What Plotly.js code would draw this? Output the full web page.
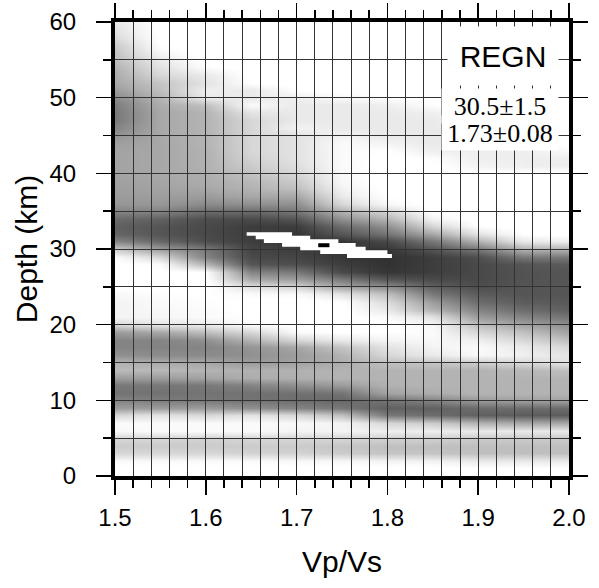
<!DOCTYPE html>
<html>
<head>
<meta charset="utf-8">
<script src="https://cdn.plot.ly/plotly-3.0.1.min.js"></script>
<style>html,body{margin:0;padding:0;background:#fff;}#chart{width:599px;height:588px;}</style>
</head>
<body>
<div id="chart"></div>
<script>
// Vp/Vs grid (columns) and depth grid (rows, km)
const vpvs = [1.50, 1.55, 1.60, 1.65, 1.70, 1.75, 1.80, 1.85, 1.90, 1.95, 2.00];
const depthKm = [0,1,2,3,4,5,6,7,8,9,10,11,12,13,14,15,16,17,18,19,20,21,22,23,24,25,26,27,28,29,30,
  31,32,33,34,35,36,37,38,39,40,41,42,43,44,45,46,47,48,49,50,51,52,53,54,55,56,57,58,59,60];

// normalised stack amplitude, one profile per Vp/Vs column (depth 0..60 km)
const stack150 = [0.02,0.02,0.05,0.20,0.25,0.20,0.06,0.05,0.20,0.45,
  0.55,0.62,0.60,0.45,0.32,0.35,0.50,0.55,0.55,0.45,
  0.20,0.08,0.08,0.08,0.06,0.03,0.02,0.02,0.02,0.05,
  0.25,0.55,0.68,0.70,0.66,0.55,0.48,0.45,0.44,0.43,
  0.42,0.42,0.42,0.42,0.44,0.48,0.55,0.60,0.60,0.58,
  0.52,0.45,0.40,0.38,0.35,0.30,0.28,0.25,0.18,0.15,0.12];
const stack155 = [0.02,0.02,0.05,0.20,0.25,0.20,0.05,0.05,0.15,0.45,
  0.58,0.63,0.60,0.45,0.33,0.38,0.52,0.55,0.55,0.40,
  0.15,0.07,0.06,0.05,0.04,0.02,0.02,0.02,0.05,0.20,
  0.45,0.68,0.75,0.75,0.70,0.55,0.47,0.44,0.42,0.41,
  0.40,0.40,0.40,0.40,0.40,0.40,0.40,0.40,0.40,0.38,
  0.35,0.30,0.28,0.20,0.15,0.12,0.06,0.03,0.02,0.02,0.02];
const stack160 = [0.02,0.02,0.05,0.20,0.25,0.22,0.05,0.05,0.20,0.45,
  0.60,0.62,0.60,0.42,0.35,0.40,0.52,0.55,0.50,0.30,
  0.12,0.05,0.05,0.04,0.03,0.02,0.02,0.03,0.35,0.55,
  0.60,0.78,0.80,0.80,0.78,0.65,0.52,0.45,0.40,0.38,
  0.37,0.36,0.36,0.36,0.35,0.35,0.35,0.35,0.35,0.30,
  0.12,0.10,0.15,0.12,0.04,0.02,0.02,0.02,0.02,0.02,0.02];
const stack165 = [0.02,0.02,0.05,0.22,0.25,0.20,0.05,0.05,0.15,0.50,
  0.62,0.63,0.55,0.38,0.36,0.45,0.50,0.48,0.35,0.20,
  0.05,0.03,0.02,0.02,0.05,0.15,0.40,0.55,0.75,0.80,
  0.82,0.85,0.85,0.85,0.80,0.65,0.50,0.40,0.35,0.33,
  0.28,0.25,0.22,0.20,0.20,0.20,0.20,0.20,0.15,0.05,
  0.12,0.12,0.03,0.02,0.02,0.02,0.02,0.02,0.02,0.02,0.02];
const stack170 = [0.02,0.02,0.06,0.22,0.25,0.20,0.08,0.06,0.20,0.55,
  0.65,0.63,0.50,0.37,0.36,0.42,0.45,0.40,0.20,0.05,
  0.02,0.02,0.02,0.02,0.05,0.20,0.45,0.60,0.78,0.82,
  0.85,0.88,0.88,0.85,0.75,0.60,0.50,0.40,0.30,0.25,
  0.20,0.17,0.15,0.15,0.15,0.15,0.08,0.12,0.12,0.12,
  0.10,0.03,0.02,0.02,0.02,0.02,0.02,0.02,0.02,0.02,0.02];
const stack175 = [0.02,0.02,0.06,0.25,0.27,0.20,0.08,0.08,0.30,0.60,
  0.67,0.62,0.45,0.35,0.35,0.38,0.35,0.28,0.12,0.03,
  0.02,0.02,0.02,0.03,0.15,0.40,0.60,0.80,0.85,0.88,
  0.88,0.88,0.75,0.65,0.50,0.35,0.20,0.12,0.08,0.06,
  0.05,0.05,0.05,0.05,0.05,0.08,0.12,0.12,0.12,0.12,
  0.06,0.02,0.02,0.02,0.02,0.02,0.02,0.02,0.02,0.02,0.02];
const stack180 = [0.02,0.02,0.08,0.28,0.30,0.22,0.10,0.20,0.60,0.70,
  0.62,0.42,0.36,0.35,0.35,0.30,0.20,0.15,0.08,0.03,
  0.02,0.05,0.12,0.18,0.30,0.50,0.75,0.88,0.90,0.90,
  0.88,0.80,0.62,0.50,0.35,0.20,0.06,0.03,0.02,0.02,
  0.02,0.02,0.02,0.03,0.08,0.12,0.12,0.12,0.12,0.10,
  0.04,0.02,0.02,0.02,0.02,0.02,0.02,0.02,0.02,0.02,0.02];
const stack185 = [0.02,0.02,0.08,0.28,0.30,0.22,0.10,0.25,0.65,0.70,
  0.55,0.38,0.35,0.35,0.35,0.28,0.12,0.08,0.06,0.05,
  0.06,0.15,0.35,0.45,0.60,0.70,0.80,0.85,0.85,0.85,
  0.75,0.60,0.40,0.20,0.08,0.02,0.02,0.02,0.02,0.02,
  0.02,0.02,0.04,0.10,0.12,0.12,0.12,0.12,0.10,0.04,
  0.02,0.02,0.02,0.02,0.02,0.02,0.02,0.02,0.02,0.02,0.02];
const stack190 = [0.02,0.03,0.12,0.30,0.30,0.25,0.12,0.35,0.70,0.65,
  0.45,0.35,0.35,0.35,0.35,0.25,0.06,0.05,0.10,0.20,
  0.30,0.45,0.55,0.65,0.72,0.78,0.80,0.80,0.80,0.78,
  0.60,0.35,0.15,0.03,0.02,0.02,0.02,0.02,0.02,0.02,
  0.02,0.08,0.10,0.10,0.10,0.10,0.08,0.02,0.02,0.02,
  0.02,0.02,0.02,0.02,0.02,0.02,0.02,0.02,0.02,0.02,0.02];
const stack195 = [0.02,0.03,0.12,0.30,0.30,0.25,0.12,0.40,0.72,0.65,
  0.42,0.35,0.35,0.35,0.33,0.20,0.10,0.12,0.20,0.30,
  0.42,0.55,0.65,0.72,0.75,0.75,0.76,0.76,0.75,0.60,
  0.35,0.12,0.03,0.02,0.02,0.02,0.02,0.02,0.02,0.02,
  0.02,0.10,0.10,0.10,0.05,0.02,0.02,0.02,0.02,0.02,
  0.02,0.02,0.02,0.02,0.02,0.02,0.02,0.02,0.02,0.02,0.02];
const stack200 = [0.02,0.03,0.12,0.30,0.30,0.25,0.12,0.40,0.72,0.65,
  0.42,0.35,0.35,0.35,0.30,0.15,0.14,0.20,0.30,0.42,
  0.50,0.62,0.70,0.73,0.75,0.75,0.75,0.75,0.72,0.60,
  0.35,0.10,0.02,0.02,0.02,0.02,0.02,0.02,0.02,0.02,
  0.02,0.10,0.10,0.05,0.02,0.02,0.02,0.02,0.02,0.02,
  0.02,0.02,0.02,0.02,0.02,0.02,0.02,0.02,0.02,0.02,0.02];

// confidence region outline (white) and best solution
const confK = [1.645,1.695,1.695,1.715,1.715,1.746,1.746,1.765,1.765,1.776,1.776,1.800,1.800,1.805,1.805,
  1.7555,1.7555,1.726,1.726,1.704,1.704,1.684,1.684,1.664,1.664,1.655,1.655,1.645,1.645];
const confH = [32.2,32.2,31.75,31.75,31.3,31.3,30.8,30.8,30.3,30.3,29.85,29.85,29.35,29.35,28.8,
  28.8,29.35,29.35,29.85,29.85,30.3,30.3,30.8,30.8,31.3,31.3,31.75,31.75,32.2];
const bestK = [1.73];
const bestH = [30.5];

const stationName = 'REGN';
const resultH = '30.5±1.5';
const resultK = '1.73±0.08';

const xTickVals = [1.5, 1.6, 1.7, 1.8, 1.9, 2.0];
const xTickText = ['1.5', '1.6', '1.7', '1.8', '1.9', '2.0'];
const yTickVals = [0, 10, 20, 30, 40, 50, 60];
const yTickText = ['0', '10', '20', '30', '40', '50', '60'];

const columns = [stack150, stack155, stack160, stack165, stack170, stack175,
  stack180, stack185, stack190, stack195, stack200];
const z = depthKm.map((d, i) => columns.map(col => col[i]));

const sans = 'Liberation Sans, Arial, Helvetica, sans-serif';
const serif = 'Liberation Serif, Times New Roman, serif';

const traces = [
  {
    type: 'heatmap', x: vpvs, y: depthKm, z: z, xaxis: 'x', yaxis: 'y',
    zmin: 0, zmax: 1, zsmooth: 'best', showscale: false, hoverinfo: 'skip',
    colorscale: [[0, '#ffffff'], [0.03, '#ffffff'], [1, '#1a1a1a']]
  },
  {
    type: 'scatter', mode: 'lines', x: confK, y: confH, xaxis: 'x2', yaxis: 'y2',
    fill: 'toself', fillcolor: '#ffffff', line: {color: '#ffffff', width: 0}, hoverinfo: 'skip'
  },
  {
    type: 'scatter', mode: 'markers', x: bestK, y: bestH, xaxis: 'x2', yaxis: 'y2',
    marker: {symbol: 'line-ew', size: 8, line: {color: '#000000', width: 4}}, hoverinfo: 'skip'
  }
];

const tickCommon = {
  ticks: 'outside', ticklen: 15, tickwidth: 1.5, tickcolor: '#000',
  showline: true, linewidth: 4, linecolor: '#000', mirror: 'allticks',
  showgrid: true, gridcolor: '#333333', gridwidth: 1, zeroline: false,
  tickfont: {family: sans, size: 24, color: '#000'}, fixedrange: true
};

const layout = {
  width: 599, height: 588,
  margin: {l: 115, r: 30, t: 22, b: 112, pad: 0},
  paper_bgcolor: '#ffffff', plot_bgcolor: 'rgba(0,0,0,0)',
  showlegend: false,
  xaxis: {range: [1.5, 2.0], domain: [0, 1], anchor: 'y', visible: false, fixedrange: true},
  yaxis: {range: [0, 60], domain: [0, 1], anchor: 'x', visible: false, fixedrange: true},
  xaxis2: Object.assign({}, tickCommon, {
    range: [1.5, 2.0], domain: [0, 1], anchor: 'y2',
    tickmode: 'array', tickvals: xTickVals, ticktext: xTickText,
    ticklabelstandoff: 2,
    minor: {dtick: 0.02, tick0: 1.5, ticks: 'outside', ticklen: 8, tickwidth: 1.5, tickcolor: '#000',
            showgrid: true, gridcolor: '#333333', gridwidth: 1},
    title: {text: 'Vp/Vs', font: {family: sans, size: 30, color: '#000'}, standoff: 22}
  }),
  yaxis2: Object.assign({}, tickCommon, {
    range: [0, 60], domain: [0, 1], anchor: 'x2',
    tickmode: 'array', tickvals: yTickVals, ticktext: yTickText,
    ticklabelstandoff: 15,
    minor: {dtick: 5, tick0: 0, ticks: 'outside', ticklen: 8, tickwidth: 1.5, tickcolor: '#000',
            showgrid: true, gridcolor: '#333333', gridwidth: 1},
    title: {text: 'Depth (km)', font: {family: sans, size: 30, color: '#000'}, standoff: 4}
  }),
  annotations: [
    {xref: 'paper', yref: 'paper', x: 0.8546, y: 0.926, xanchor: 'center', yanchor: 'middle',
     width: 110, height: 58, bgcolor: '#ffffff', borderpad: 0, showarrow: false,
     text: stationName, font: {family: sans, size: 30, color: '#000'}},
    {xref: 'paper', yref: 'paper', x: 0.848, y: 0.8155, xanchor: 'center', yanchor: 'middle',
     width: 116, height: 34, bgcolor: '#ffffff', borderpad: 0, showarrow: false,
     text: resultH, font: {family: serif, size: 26, color: '#000'}},
    {xref: 'paper', yref: 'paper', x: 0.848, y: 0.7555, xanchor: 'center', yanchor: 'middle',
     width: 116, height: 34, bgcolor: '#ffffff', borderpad: 0, showarrow: false,
     text: resultK, font: {family: serif, size: 26, color: '#000'}}
  ]
};

Plotly.newPlot('chart', traces, layout, {staticPlot: true, displayModeBar: false});
</script>
</body>
</html>
